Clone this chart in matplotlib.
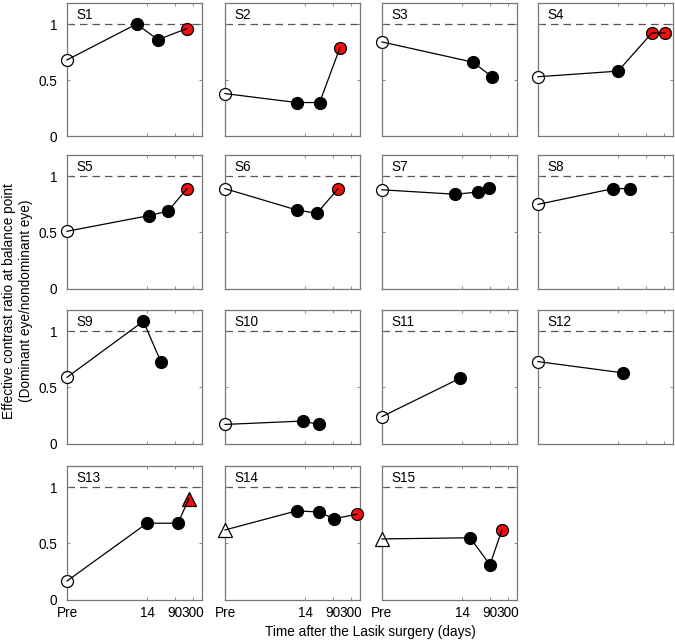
import matplotlib
matplotlib.use('Agg')
import matplotlib.pyplot as plt
from matplotlib.ticker import FixedLocator, LogLocator, NullFormatter

# x position used for the pre-surgery measurement (left edge of the log axis)
PRE = 0.068

subjects = ['S1', 'S2', 'S3', 'S4', 'S5', 'S6', 'S7', 'S8',
            'S9', 'S10', 'S11', 'S12', 'S13', 'S14', 'S15']

# days after surgery for each measurement
days = [
    [PRE, 7, 29, 200],
    [PRE, 8, 37, 144],
    [PRE, 29, 103],
    [PRE, 14, 134, 319],
    [PRE, 16, 57, 200],
    [PRE, 8, 31, 126],
    [PRE, 9, 41, 84],
    [PRE, 10, 31],
    [PRE, 11, 35],
    [PRE, 12, 35],
    [PRE, 12],
    [PRE, 19],
    [PRE, 14, 110, 229],
    [PRE, 8, 35, 96, 445],
    [PRE, 24, 90, 200],
]

# effective contrast ratio at balance point
ratio = [
    [0.68, 1.00, 0.86, 0.96],
    [0.38, 0.30, 0.30, 0.79],
    [0.84, 0.66, 0.53],
    [0.53, 0.58, 0.92, 0.92],
    [0.51, 0.65, 0.69, 0.89],
    [0.89, 0.70, 0.67, 0.89],
    [0.88, 0.84, 0.86, 0.90],
    [0.75, 0.89, 0.89],
    [0.59, 1.09, 0.73],
    [0.17, 0.20, 0.17],
    [0.24, 0.58],
    [0.73, 0.63],
    [0.165, 0.68, 0.68, 0.90],
    [0.62, 0.79, 0.78, 0.72, 0.76],
    [0.54, 0.55, 0.31, 0.62],
]

# point type: o = open circle, t = open triangle, b = filled black,
# r = red circle, R = red triangle
kinds = ['obbr', 'obbr', 'obb', 'obrr', 'obbr', 'obbr', 'obbb', 'obb',
         'obb', 'obb', 'ob', 'ob', 'obbR', 'tbbbr', 'tbbr']

xtick_vals = [PRE, 14, 90, 300]
xtick_labels = ['Pre', '14', '90', '300']

styles = {
    'o': dict(marker='o', mfc='white', mec='black'),
    't': dict(marker='^', mfc='white', mec='black'),
    'b': dict(marker='o', mfc='black', mec='black'),
    'r': dict(marker='o', mfc='#ee1111', mec='black'),
    'R': dict(marker='^', mfc='#ee1111', mec='black'),
}

plt.rcParams['font.family'] = ['Liberation Sans', 'DejaVu Sans']
plt.rcParams['font.size'] = 9.8

W, H = 675, 643
fig = plt.figure(figsize=(W / 100, H / 100), dpi=100)

col_left = [67, 225, 382, 538]
row_top = [2.7, 155, 310, 466]
aw, ah = 135, 133.5
grey = '#777777'

for i, name in enumerate(subjects):
    r, c = divmod(i, 4)
    ax = fig.add_axes([col_left[c] / W, 1 - (row_top[r] + ah) / H, aw / W, ah / H])
    ax.set_xscale('log')
    ax.set_xlim(PRE, 545)
    ax.set_ylim(0, 1.19)

    ax.axhline(1, color='#555555', lw=0.9, ls=(0, (6, 4)), zorder=1)

    for x, y, k in zip(days[i], ratio[i], kinds[i]):
        ms = 9.5 if k in 'tR' else 8.6
        ax.plot([x], [y], ls='none', ms=ms, mew=0.9, clip_on=False, zorder=3, **styles[k])
    ax.plot(days[i], ratio[i], color='black', lw=0.9, clip_on=False, zorder=4)

    ax.text(0.07, 0.91, name, transform=ax.transAxes, ha='left', va='center')

    for sp in ax.spines.values():
        sp.set_color(grey)
        sp.set_linewidth(0.9)

    ax.xaxis.set_major_locator(FixedLocator(xtick_vals))
    ax.xaxis.set_minor_locator(LogLocator(base=10, subs=range(2, 10)))
    ax.xaxis.set_minor_formatter(NullFormatter())
    ax.set_yticks([0, 0.5, 1])
    ax.tick_params(which='both', direction='in', top=True, right=True, color=grey, width=0.6)
    ax.tick_params(which='major', length=2.5)
    ax.tick_params(which='minor', length=1.5)
    ax.tick_params(axis='x', pad=5)
    ax.tick_params(axis='y', pad=7)

    if r == 3:
        ax.set_xticklabels(xtick_labels)
    else:
        ax.set_xticklabels([])
    if c == 0:
        ax.set_yticklabels(['0', '0.5', '1'])
    else:
        ax.set_yticklabels([])

fig.text(0.026, 1 - 301 / H,
         'Effective contrast ratio at balance point\n(Dominant eye/nondominant eye)',
         rotation=90, ha='center', va='center', linespacing=1.3)
fig.text(370 / W, 1 - 632 / H, 'Time after the Lasik surgery (days)',
         ha='center', va='center')

fig.savefig('out.png', dpi=100)
